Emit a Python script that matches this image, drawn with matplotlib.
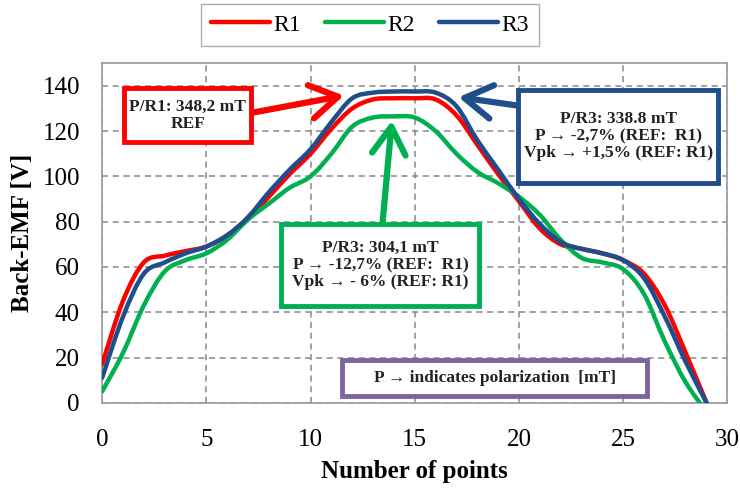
import numpy as np
import matplotlib
matplotlib.use("Agg")
import matplotlib.pyplot as plt
from matplotlib.path import Path
from matplotlib.patches import PathPatch, Rectangle, FancyArrowPatch
from matplotlib.lines import Line2D

# values
points = list(range(30))
r1 = [17, 45, 62, 65, 67, 69, 74, 81, 91, 101, 110, 121, 130, 134, 134.5,
      134.5, 134, 127, 114, 101, 89, 77, 70, 68, 66, 63, 57, 43, 22, 0]
r2 = [5, 22, 43, 58, 63, 66, 72, 81, 88, 95, 100, 110, 122, 126, 126.5,
      126, 120, 110, 102, 97, 91, 83, 72, 64, 62, 59, 48, 27, 9, -4]
r3 = [11, 38, 57, 62, 66, 69, 74, 82, 93, 103, 112, 124, 134.5, 137, 137.5,
      137.5, 137, 131, 116, 103, 90, 79, 71, 68, 66, 63, 55, 38, 18, 0]
names = ["R1", "R2", "R3"]
colors = ["#FF0000", "#00B050", "#1F4E8C"]

plt.rcParams["font.family"] = ["Liberation Serif", "DejaVu Serif"]

fig = plt.figure(figsize=(7.4, 4.9), dpi=100)
ax = fig.add_axes([0.138, 0.178, 0.845, 0.693])


def smooth_path(x, y):
    # excel style smoothed line: bezier segments through every point
    x = np.asarray(x, float)
    y = np.asarray(y, float)
    px = np.concatenate([[x[0]], x, [x[-1]]])
    py = np.concatenate([[y[0]], y, [y[-1]]])
    verts = [(x[0], y[0])]
    codes = [Path.MOVETO]
    for i in range(1, len(px) - 2):
        c1 = (px[i] + (px[i + 1] - px[i - 1]) / 6, py[i] + (py[i + 1] - py[i - 1]) / 6)
        c2 = (px[i + 1] - (px[i + 2] - px[i]) / 6, py[i + 1] - (py[i + 2] - py[i]) / 6)
        verts += [c1, c2, (px[i + 1], py[i + 1])]
        codes += [Path.CURVE4] * 3
    return Path(verts, codes)


handles = []
for vals, name, c in zip([r1, r2, r3], names, colors):
    ax.add_patch(PathPatch(smooth_path(points, vals), fill=False, edgecolor=c,
                           lw=3.2, capstyle="round", joinstyle="round", zorder=3))
    handles.append(Line2D([], [], color=c, lw=3.2, solid_capstyle="round"))

ax.set_xlim(0, 30)
ax.set_ylim(0, 150)
ax.set_xticks(range(0, 31, 5))
ax.set_yticks(range(0, 141, 20))
ax.tick_params(length=0, labelsize=18)
ax.tick_params(axis="x", pad=19)
ax.tick_params(axis="y", pad=16)
ax.grid(True, ls=(0, (4, 3)), color="#888888", lw=1.1)
ax.set_axisbelow(True)
for s in ax.spines.values():
    s.set_color("#999999")
    s.set_linewidth(1.2)

ax.set_xlabel("Number of points", fontsize=18, fontweight="bold", labelpad=6)
ax.set_ylabel("Back-EMF [V]", fontsize=18, fontweight="bold", labelpad=6)

fig.legend(handles, names, loc="center", bbox_to_anchor=(0.5, 0.949), ncol=3,
           fontsize=17, frameon=True, fancybox=False, edgecolor="#999999",
           handlelength=2.5, handletextpad=0.15, columnspacing=1.0,
           borderpad=0.45)


def box(x0, y0, x1, y1, color, text, tcolor="#222222"):
    ax.add_patch(Rectangle((x0, y0), x1 - x0, y1 - y0, fill=True, facecolor="white",
                           edgecolor=color, lw=3.5, zorder=5))
    ax.text((x0 + x1) / 2, (y0 + y1) / 2, text, ha="center", va="center",
            fontsize=12.5, fontweight="bold", color=tcolor, zorder=6,
            linespacing=1.1)


def arrow(start, end, color):
    ax.add_patch(FancyArrowPatch(start, end, arrowstyle="->,head_length=0.9,head_width=0.55",
                                 mutation_scale=22, color=color, lw=4.5, zorder=4,
                                 shrinkA=0, shrinkB=0, capstyle="round", joinstyle="round"))


arrow((7.3, 128.3), (11.6, 135.7), colors[0])
arrow((20.0, 131.2), (17.1, 135.0), colors[2])
arrow((13.45, 79.0), (13.9, 124.6), colors[1])

box(1.06, 115.1, 7.15, 139.1, colors[0], "P/R1: 348,2 mT\nREF")
box(19.97, 97.3, 29.55, 138.2, colors[2],
    "P/R3: 338.8 mT\nP \u2192 -2,7% (REF:  R1)\nVpk \u2192 +1,5% (REF: R1)")
box(8.6, 42.7, 18.1, 79.1, colors[1],
    "P/R3: 304,1 mT\nP \u2192 -12,7% (REF:  R1)\nVpk \u2192 - 6% (REF: R1)")
box(11.52, 3.1, 26.16, 18.7, "#8064A2", "P \u2192 indicates polarization  [mT]")

fig.savefig("out.png", dpi=100)
